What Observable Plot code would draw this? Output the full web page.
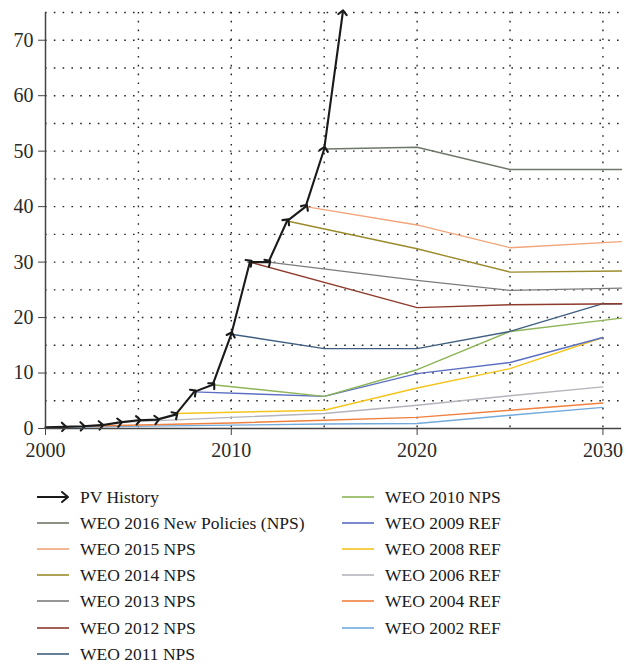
<!DOCTYPE html>
<html><head><meta charset="utf-8">
<script src="https://cdn.jsdelivr.net/npm/d3@7"></script>
<script src="https://cdn.jsdelivr.net/npm/@observablehq/plot@0.6"></script>
<style>
body{margin:0;background:#fff;font-family:"Liberation Serif",serif;}
#chart svg{display:block;}
#legend{position:relative;width:628px;height:194px;}
.item{position:absolute;height:24px;line-height:24px;font-size:17.5px;color:#1a1a1a;white-space:nowrap;}
.item svg{position:absolute;top:0;}
.item span{position:absolute;}
</style></head><body>
<div id="chart"></div>
<div id="legend"></div>
<script>
// PV History (annual additions, GW)
const historyYears  = [2000,2001,2002,2003,2004,2005,2006,2007,2008,2009,2010,2011,2012,2013,2014,2015,2016];
const historyValues = [0.2,0.3,0.4,0.6,1.1,1.5,1.6,2.5,6.6,7.9,17.0,30.0,30.0,37.4,40.0,50.4,75.0];

// WEO projections
const seriesNames = [
  "WEO 2016 New Policies (NPS)","WEO 2015 NPS","WEO 2014 NPS","WEO 2013 NPS","WEO 2012 NPS","WEO 2011 NPS",
  "WEO 2010 NPS","WEO 2009 REF","WEO 2008 REF","WEO 2006 REF","WEO 2004 REF","WEO 2002 REF"
];
const seriesColors = [
  "#6f7868","#f2a57a","#9a8b2c","#7c7c7c","#8e3b2c","#3f5f80",
  "#8db456","#5b6fc2","#f4c51c","#b4b4bc","#f0803e","#72aadc"
];
const seriesYears = [
  [2015,2020,2025,2031],
  [2014,2020,2025,2031],
  [2013,2020,2025,2031],
  [2012,2020,2025,2031],
  [2011,2020,2025,2031],
  [2010,2015,2020,2025,2030,2031],
  [2009,2015,2020,2025,2031],
  [2008,2015,2020,2025,2030],
  [2007,2015,2020,2025,2030],
  [2004,2010,2015,2020,2025,2030],
  [2002,2010,2015,2020,2025,2030],
  [2000,2010,2015,2020,2025,2030]
];
const seriesValues = [
  [50.4,50.7,46.7,46.7],
  [40.0,36.7,32.6,33.7],
  [37.4,32.4,28.2,28.4],
  [30.0,26.7,24.9,25.3],
  [30.0,21.8,22.3,22.5],
  [17.0,14.4,14.4,17.5,22.5,22.5],
  [7.9,5.8,10.6,17.5,19.9],
  [6.6,5.8,9.9,11.9,16.4],
  [2.7,3.3,7.3,10.8,16.4],
  [1.1,2.0,2.7,4.2,5.9,7.5],
  [0.4,1.0,1.5,2.0,3.3,4.6],
  [0.2,0.6,0.8,0.9,2.4,3.8]
];
const xTicks = [2000,2010,2020,2030];
const yTicks = [0,10,20,30,40,50,60,70];
const gridXValues = [2005,2010,2015,2020,2025,2030];
const gridYValues = [5,10,15,20,25,30,35,40,45,50,55,60,65,70,75];

const rows = [];
seriesNames.forEach((name,i)=>{
  seriesYears[i].forEach((yr,j)=>rows.push({series:name, year:yr, value:seriesValues[i][j]}));
});
const history = historyYears.map((y,i)=>({year:y, value:historyValues[i]}));
const drawOrder = seriesNames.slice().reverse();

const grid = {stroke:"#1a1a1a", strokeOpacity:0.95, strokeWidth:1.4, strokeDasharray:"1.6,7.2"};

const plot = Plot.plot({
  width:628, height:470,
  marginLeft:45, marginRight:7, marginTop:12, marginBottom:42,
  x:{domain:[2000,2031]},
  y:{domain:[0,75]},
  style:{fontFamily:"Liberation Serif, serif", fontSize:"20px", color:"#333", background:"#fff"},
  marks:[
    Plot.gridY(gridYValues, grid),
    Plot.gridX(gridXValues, grid),
    ...drawOrder.map(name=>{
      const i = seriesNames.indexOf(name);
      return Plot.line(rows.filter(d=>d.series===name), {x:"year", y:"value", stroke:seriesColors[i], strokeWidth:1.4});
    }),
    Plot.line(history, {x:"year", y:"value", stroke:"#1a1a1a", strokeWidth:2.1, markerMid:"arrow", markerEnd:"arrow"}),
    Plot.ruleY([0], {stroke:"#444", strokeWidth:1.5}),
    Plot.ruleX([2000], {stroke:"#444", strokeWidth:1.5}),
    Plot.axisX({ticks:xTicks, tickFormat:d=>String(d), tickSize:7, tickPadding:7, stroke:"#444", label:null, fill:"#2a2a2a"}),
    Plot.axisY({ticks:yTicks, tickSize:7, tickPadding:5, stroke:"#444", label:null, fill:"#2a2a2a"})
  ]
});
document.getElementById("chart").appendChild(plot);

// Legend
const legend = document.getElementById("legend");
const leftCol = ["PV History", ...seriesNames.slice(0,6)];
const rightCol = seriesNames.slice(6);
function addItem(label, color, col, row, isArrow){
  const d = document.createElement("div");
  d.className = "item";
  const x0 = col===0 ? 37 : 342;
  d.style.left = x0+"px";
  d.style.top = (14.5 + row*26.2)+"px";
  const w = 32;
  let svg = `<svg width="${w+6}" height="24" style="left:0">`;
  if(isArrow){
    svg += `<line x1="0" y1="12" x2="${w-1}" y2="12" stroke="${color}" stroke-width="2"/>`+
           `<path d="M${w-7},7 L${w-1},12 L${w-7},17" fill="none" stroke="${color}" stroke-width="2" stroke-linecap="round" stroke-linejoin="round"/>`;
  } else {
    svg += `<line x1="0" y1="12" x2="${w}" y2="12" stroke="${color}" stroke-width="1.6"/>`;
  }
  svg += `</svg>`;
  d.innerHTML = svg + `<span style="left:${43}px">${label}</span>`;
  legend.appendChild(d);
}
leftCol.forEach((name,r)=>{
  if(r===0) addItem(name,"#1a1a1a",0,0,true);
  else addItem(name, seriesColors[seriesNames.indexOf(name)], 0, r, false);
});
rightCol.forEach((name,r)=>addItem(name, seriesColors[seriesNames.indexOf(name)], 1, r, false));
</script>
</body></html>
